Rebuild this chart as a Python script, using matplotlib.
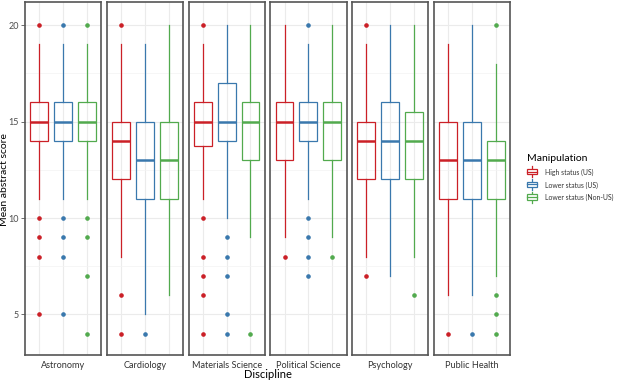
import numpy as np
import matplotlib.pyplot as plt
from matplotlib.legend_handler import HandlerBase
from matplotlib.patches import Rectangle
from matplotlib.lines import Line2D

plt.rcParams['font.family'] = ['Lato', 'DejaVu Sans']

disciplines = ["Astronomy", "Cardiology", "Materials Science",
               "Political Science", "Psychology", "Public Health"]
groups = ["High status (US)", "Lower status (US)", "Lower status (Non-US)"]
colors = ["#CB2027", "#3A78AD", "#52AA4E"]

# rows = discipline, columns = manipulation group
q1 = [[14, 14, 14], [12, 11, 11], [13.75, 14, 13],
      [13, 14, 13], [12, 12, 12], [11, 11, 11]]
med = [[15, 15, 15], [14, 13, 13], [15, 15, 15],
       [15, 15, 15], [14, 14, 14], [13, 13, 13]]
q3 = [[16, 16, 16], [15, 15, 15], [16, 17, 16],
      [16, 16, 16], [15, 16, 15.5], [15, 15, 14]]
whislo = [[11, 11, 11], [8, 5, 6], [11, 10, 9],
          [9, 11, 9], [8, 7, 8], [6, 6, 7]]
whishi = [[19, 19, 19], [19, 19, 20], [19, 20, 20],
          [20, 19, 20], [19, 20, 20], [19, 20, 18]]
outliers = [
    [[20, 10, 9, 8, 5], [20, 10, 9, 8, 5], [20, 10, 9, 7, 4]],
    [[20, 6, 4], [4], []],
    [[20, 10, 8, 7, 6, 4], [9, 8, 7, 5, 4], [4]],
    [[8], [20, 10, 9, 8, 7], [8]],
    [[20, 7], [], [6]],
    [[4], [4], [20, 6, 5, 4]],
]

W, H = 617, 385
fig = plt.figure(figsize=(W / 100, H / 100), dpi=100)

left_px, right_px, top_px, bot_px = 25, 510, 2, 355
gap = 5.5
pw = (right_px - left_px - 5 * gap) / 6

for i, name in enumerate(disciplines):
    x0 = left_px + i * (pw + gap)
    ax = fig.add_axes([x0 / W, 1 - bot_px / H, pw / W, (bot_px - top_px) / H])
    for j in range(3):
        c = colors[j]
        st = dict(med=med[i][j], q1=q1[i][j], q3=q3[i][j],
                  whislo=whislo[i][j], whishi=whishi[i][j],
                  fliers=outliers[i][j])
        ax.bxp([st], positions=[j + 1], widths=0.75, showcaps=False,
               patch_artist=True,
               boxprops=dict(facecolor='none', edgecolor=c, linewidth=0.9),
               medianprops=dict(color=c, linewidth=1.8),
               whiskerprops=dict(color=c, linewidth=0.9),
               flierprops=dict(marker='o', markersize=2.3, markerfacecolor=c,
                               markeredgecolor=c))
    ax.set_xlim(0.4, 3.6)
    ax.set_ylim(2.9, 21.2)
    ax.set_xticks([1, 2, 3])
    ax.set_xticklabels([])
    ax.set_yticks([5, 10, 15, 20])
    ax.set_yticks([7.5, 12.5, 17.5], minor=True)
    ax.grid(which='major', color='#EBEBEB', linewidth=0.8)
    ax.grid(which='minor', axis='y', color='#F3F3F3', linewidth=0.5)
    ax.set_axisbelow(True)
    ax.tick_params(axis='x', length=0)
    ax.tick_params(axis='y', which='minor', length=0)
    ax.tick_params(axis='y', which='major', length=3, width=0.6,
                   color='#555555', labelsize=6.5, labelcolor='#4D4D4D', pad=1.5)
    if i > 0:
        ax.tick_params(axis='y', which='major', length=0, labelleft=False)
    for s in ax.spines.values():
        s.set_color('#555555')
        s.set_linewidth(1.2)
    fig.text((x0 + pw / 2) / W, 1 - 366 / H, name, ha='center', va='center',
             fontsize=6.6, color='#333333')

fig.text(5 / W, 1 - 180 / H, "Mean abstract score", rotation=90,
         ha='center', va='center', fontsize=7.5)
fig.text((left_px + right_px) / 2 / W, 1 - 375 / H, "Discipline",
         ha='center', va='center', fontsize=8)


class BoxHandler(HandlerBase):
    def create_artists(self, legend, orig_handle, xdescent, ydescent,
                       width, height, fontsize, trans):
        c = orig_handle.get_color()
        x0, y0 = -xdescent, -ydescent
        cx = x0 + width / 2
        rect = Rectangle((x0, y0 + height * 0.1), width, height * 0.8,
                         facecolor='white', edgecolor=c, lw=0.9, transform=trans)
        m = Line2D([x0, x0 + width], [y0 + height / 2] * 2, color=c, lw=0.9,
                   transform=trans)
        w1 = Line2D([cx, cx], [y0 - height * 0.25, y0 + height * 0.1],
                    color=c, lw=0.9, transform=trans)
        w2 = Line2D([cx, cx], [y0 + height * 0.9, y0 + height * 1.25],
                    color=c, lw=0.9, transform=trans)
        return [w1, w2, rect, m]


handles = [Line2D([], [], color=c) for c in colors]
leg = fig.legend(handles, groups, loc='upper left',
                 bbox_to_anchor=(520 / W, 1 - 147 / H),
                 handler_map={Line2D: BoxHandler()}, frameon=False,
                 title="Manipulation", title_fontsize=7.5,
                 handlelength=1.2, handleheight=0.9, handletextpad=0.9,
                 labelspacing=0.6, alignment='left', borderpad=0.3,
                 prop={'size': 6.2})
for t in leg.get_texts():
    t.set_color('#333333')

# shrink the legend labels until they fit inside the figure
for _ in range(5):
    fig.canvas.draw()
    boxes = [t.get_window_extent() for t in leg.get_texts()]
    x_start = min(b.x0 for b in boxes)
    x_end = max(b.x1 for b in boxes)
    if x_end <= W - 3:
        break
    f = (W - 3 - x_start) / (x_end - x_start)
    for t in leg.get_texts():
        t.set_fontsize(t.get_fontsize() * f)

fig.savefig("out.png", dpi=100)
